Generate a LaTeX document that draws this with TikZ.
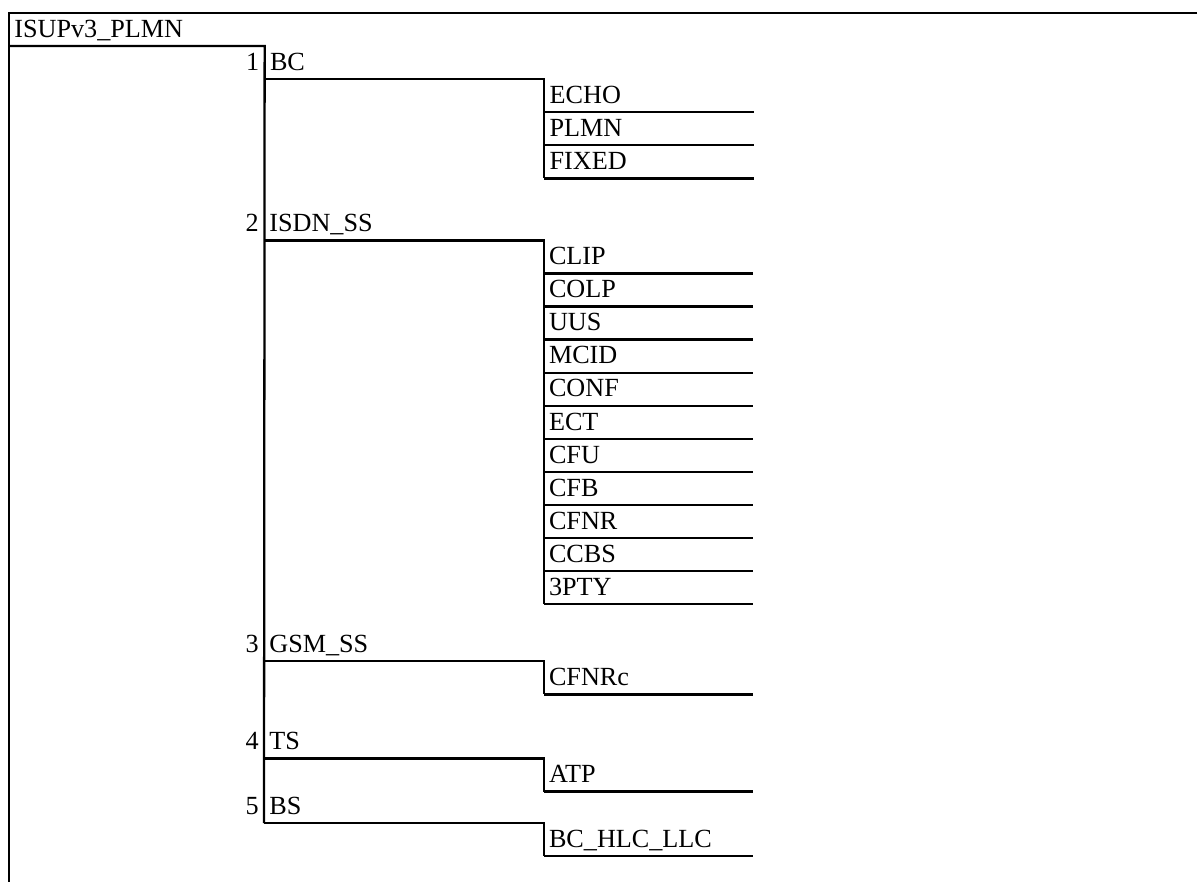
\documentclass[tikz,border=0pt]{standalone}
\usepackage{fontspec}
\setmainfont{Liberation Serif}
\usetikzlibrary{positioning}

\begin{document}
\begin{tikzpicture}[
  x=0.02cm, y=-0.02cm,
  every node/.style={font=\fontsize{14.9}{17}\selectfont, inner ysep=0pt, inner xsep=2.845pt, text height=13.59pt, text depth=4.84pt, anchor=north west, align=left},
  rootbox/.style={text width=139.42pt},
  midbox/.style={text width=153.08pt},
  leafbox/.style={text width=113.24pt},
  num/.style={anchor=base east, text height=, text depth=},
  tree/.style={line width=1.3pt}
]
\useasboundingbox (0,0) rectangle (1198,882);

\node (root) [rootbox] at (9,13) {ISUPv3\_PLMN};

\node (bc) [midbox] at (root.south east) {BC};
\node (isdn) [midbox] at (264,207.28) {ISDN\_SS};
\node (gsm) [midbox] at (264,628.22) {GSM\_SS};
\node (ts) [midbox] at (264,725.36) {TS};
\node (bs) [midbox] at (264,790.12) {BS};

\node (n1) [num] at (bc.base west) {1};
\node (n2) [num] at (isdn.base west) {2};
\node (n3) [num] at (gsm.base west) {3};
\node (n4) [num] at (ts.base west) {4};
\node (n5) [num] at (bs.base west) {5};

\node (echo) [leafbox] at (bc.south east) {ECHO};
\node (plmn) [leafbox, below=0pt of echo] {PLMN};
\node (fixed) [leafbox, below=0pt of plmn] {FIXED};

\node (clip) [leafbox] at (isdn.south east) {CLIP};
\node (colp) [leafbox, below=0pt of clip] {COLP};
\node (uus) [leafbox, below=0pt of colp] {UUS};
\node (mcid) [leafbox, below=0pt of uus] {MCID};
\node (conf) [leafbox, below=0pt of mcid] {CONF};
\node (ect) [leafbox, below=0pt of conf] {ECT};
\node (cfu) [leafbox, below=0pt of ect] {CFU};
\node (cfb) [leafbox, below=0pt of cfu] {CFB};
\node (cfnr) [leafbox, below=0pt of cfb] {CFNR};
\node (ccbs) [leafbox, below=0pt of cfnr] {CCBS};
\node (pty) [leafbox, below=0pt of ccbs] {3PTY};

\node (cfnrc) [leafbox] at (gsm.south east) {CFNRc};
\node (atp) [leafbox] at (ts.south east) {ATP};
\node (hlc) [leafbox] at (bs.south east) {BC\_HLC\_LLC};

\coordinate (topend) at (1197,13);
\coordinate (botend) at (9,882);

% outer frame of the root
\draw [tree] (topend) -- (root.north west) -- (botend);
\draw [tree] (root.south west) -- (root.south east) -- (bs.south west);

% second level
\draw [tree] (bc.south west) -- (bc.south east) -- (fixed.south west);
\draw [tree] (isdn.south west) -- (isdn.south east) -- (pty.south west);
\draw [tree] (gsm.south west) -- (gsm.south east) -- (cfnrc.south west);
\draw [tree] (ts.south west) -- (ts.south east) -- (atp.south west);
\draw [tree] (bs.south west) -- (bs.south east) -- (hlc.south west);

% leaves
\foreach \leaf in {echo,plmn,fixed,clip,colp,uus,mcid,conf,ect,cfu,cfb,cfnr,ccbs,pty,cfnrc,atp,hlc}
  \draw [tree] (\leaf.south west) -- (\leaf.south east);

\end{tikzpicture}
\end{document}
